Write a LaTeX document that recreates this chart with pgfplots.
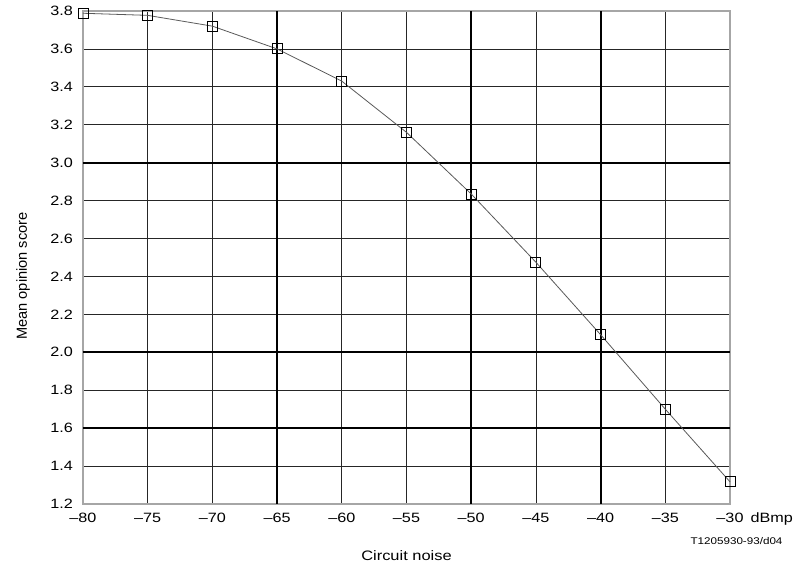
\documentclass[border=0pt]{standalone}
\usepackage{fontspec}
\setmainfont[FakeStretch=1.2]{Liberation Sans}
\newfontfamily\ylfont{Liberation Sans}
\usepackage{pgfplots}
\pgfplotsset{compat=1.18}

\begin{document}
\begin{tikzpicture}
\path[use as bounding box] (-83pt,-65pt) rectangle (717pt,504pt);
\begin{axis}[
  scale only axis,
  width=647pt, height=493pt,
  xmin=-80, xmax=-30, ymin=1.2, ymax=3.8,
  xtick={-80,-75,...,-30},
  xticklabels={–80,–75,–70,–65,–60,–55,–50,–45,–40,–35,–30},
  ytick={1.2,1.4,...,3.81},
  minor xtick={-75,-70,-60,-55,-45,-35},
  minor ytick={1.4,1.8,2.2,2.4,2.6,2.8,3.2,3.4,3.6},
  /pgf/number format/assume math mode=true,
  /pgf/number format/fixed,
  /pgf/number format/fixed zerofill,
  /pgf/number format/precision=1,
  tick label style={font=\fontsize{13.5}{16}\selectfont},
  xticklabel style={anchor=base, yshift=-19pt},
  yticklabel style={anchor=east, inner sep=0pt, xshift=-10pt},
  major tick length=0pt, minor tick length=0pt,
  xminorgrids, yminorgrids,
  minor grid style={black!85, line width=0.75pt},
  axis line style={gray!70, line width=1.4pt},
  xlabel={Circuit noise},
  xlabel style={at={(axis description cs:0.5,-0.115)}, anchor=base, font=\fontsize{13.7}{16}\selectfont},
  ylabel={Mean opinion score},
  ylabel style={at={(axis description cs:-0.0927,0.4625)}, anchor=center, font=\ylfont\fontsize{14.6}{17}\selectfont},
  clip=false,
]
% heavier grid lines
\draw[black, line width=1.8pt] (axis cs:-65,1.2) -- (axis cs:-65,3.8);
\draw[black, line width=1.8pt] (axis cs:-50,1.2) -- (axis cs:-50,3.8);
\draw[black, line width=1.8pt] (axis cs:-40,1.2) -- (axis cs:-40,3.8);
\draw[black, line width=1.8pt] (axis cs:-80,3.0) -- (axis cs:-30,3.0);
\draw[black, line width=1.8pt] (axis cs:-80,2.0) -- (axis cs:-30,2.0);
\draw[black, line width=1.8pt] (axis cs:-80,1.6) -- (axis cs:-30,1.6);
\addplot[black!65, line width=0.8pt, mark=square, mark size=5pt,
  mark options={black, line width=0.9pt, fill=none}] coordinates {
  (-80, 3.788)
  (-75, 3.777)
  (-70, 3.720)
  (-65, 3.600)
  (-60, 3.430)
  (-55, 3.160)
  (-50, 2.835)
  (-45, 2.475)
  (-40, 2.093)
  (-35, 1.700)
  (-30, 1.317)
};
\node[anchor=base west, font=\fontsize{13.5}{16}\selectfont] at ([xshift=17pt,yshift=-19pt]rel axis cs:1,0) {dBmp};
\end{axis}
\node[anchor=base east, font=\fontsize{9.7}{12}\selectfont] at ([xshift=56pt,yshift=-41pt]current axis.south east) {T1205930-93/d04};
\end{tikzpicture}
\end{document}
